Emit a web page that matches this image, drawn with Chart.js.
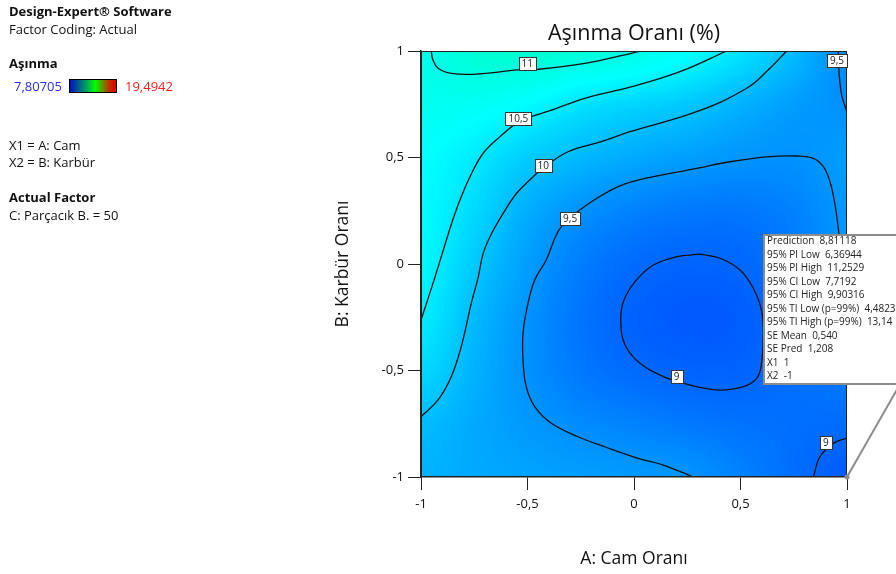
<!DOCTYPE html>
<html>
<head>
<meta charset="utf-8">
<script src="https://cdn.jsdelivr.net/npm/chart.js@4.4.1/dist/chart.umd.min.js"></script>
<style>
  body { margin: 0; background: #fff; }
  #wrap { position: relative; width: 896px; height: 574px; overflow: hidden; font-family: "Open Sans", sans-serif; }
  #c { position: absolute; left: 0; top: 0; }
  .side { position: absolute; left: 9px; font-size: 13px; line-height: 16px; color: #111; white-space: nowrap; }
  .b { font-weight: bold; }
  .bar { position: absolute; left: 69px; top: 79px; width: 46px; height: 12px; border: 1px solid #000;
         background: linear-gradient(to right, #0010c0, #00a060 35%, #00ff00 55%, #c03000 85%, #e00000); }
</style>
</head>
<body>
<div id="wrap">
  <canvas id="c" width="896" height="574"></canvas>
  <div class="side b" style="top:3px">Design-Expert® Software</div>
  <div class="side" style="top:21px">Factor Coding: Actual</div>
  <div class="side b" style="top:55px">Aşınma</div>
  <div class="side" style="top:78px;left:14px;color:#2a2aff">7,80705</div>
  <div class="bar"></div>
  <div class="side" style="top:78px;left:125px;color:#ff2020">19,4942</div>
  <div class="side" style="top:137px">X1 = A: Cam</div>
  <div class="side" style="top:154px">X2 = B: Karbür</div>
  <div class="side b" style="top:189px">Actual Factor</div>
  <div class="side" style="top:207px">C: Parçacık B. = 50</div>
</div>
<script>
// ===== Aşınma Oranı contour =====
const xTicks = [-1, -0.5, 0, 0.5, 1];
const yTicks = [-1, -0.5, 0, 0.5, 1];

const wearMin = 7.80705;
const wearMax = 19.4942;

// response, rows = B from -1 up to 1, cols = A from -1 to 1
const gridA = [-1, -0.75, -0.5, -0.25, 0, 0.25, 0.5, 0.75, 1];
const gridB = [-1, -0.75, -0.5, -0.25, 0, 0.25, 0.5, 0.75, 1];
const wear = [
  [9.85, 9.75, 9.68, 9.62, 9.57, 9.51, 9.30, 9.07, 8.85],
  [9.97, 9.75, 9.56, 9.40, 9.30, 9.20, 9.12, 9.08, 9.05],
  [10.30, 9.85, 9.48, 9.20, 9.03, 8.95, 8.95, 9.08, 9.20],
  [10.52, 9.95, 9.50, 9.15, 8.93, 8.85, 8.88, 9.10, 9.40],
  [10.65, 10.12, 9.62, 9.25, 9.04, 8.96, 8.99, 9.20, 9.52],
  [10.70, 10.30, 9.80, 9.49, 9.30, 9.20, 9.18, 9.30, 9.55],
  [10.75, 10.50, 10.15, 9.92, 9.75, 9.62, 9.52, 9.48, 9.60],
  [10.90, 10.85, 10.70, 10.42, 10.25, 10.10, 9.85, 9.62, 9.47],
  [10.95, 11.20, 11.25, 11.15, 11.02, 10.75, 10.40, 9.95, 9.40],
];

// contour lines, [A, B]
const line11 = [[-0.952, 1], [-0.944, 0.958], [-0.92, 0.919], [-0.858, 0.895], [-0.732, 0.892],
  [-0.545, 0.911], [-0.451, 0.914], [-0.231, 0.942], [-0.013, 0.989], [0.028, 1]];
const line105 = [[-1, -0.263], [-0.959, -0.138], [-0.934, -0.06], [-0.895, 0.066], [-0.856, 0.191],
  [-0.817, 0.3], [-0.77, 0.41], [-0.708, 0.52], [-0.629, 0.598], [-0.546, 0.665], [-0.488, 0.69],
  [-0.394, 0.72], [-0.231, 0.778], [-0.019, 0.83], [0.216, 0.903], [0.435, 1]];
const line10 = [[-1, -0.717], [-0.92, -0.638], [-0.858, -0.529], [-0.811, -0.388], [-0.764, -0.185],
  [-0.731, -0.06], [-0.708, 0.05], [-0.668, 0.144], [-0.614, 0.238], [-0.551, 0.332],
  [-0.473, 0.41], [-0.427, 0.45], [-0.31, 0.527], [-0.154, 0.574], [-0.019, 0.621],
  [0.294, 0.715], [0.529, 0.825], [0.638, 0.919], [0.717, 1]];
const line95 = [[1, -0.2], [0.981, -0.028], [0.959, 0.168], [0.944, 0.277], [0.92, 0.386],
  [0.889, 0.457], [0.842, 0.496], [0.764, 0.507], [0.638, 0.504], [0.451, 0.48], [0.294, 0.449],
  [0.019, 0.394], [-0.075, 0.363], [-0.2, 0.292], [-0.302, 0.215], [-0.357, 0.152],
  [-0.412, 0.019], [-0.466, -0.075], [-0.501, -0.2], [-0.521, -0.325], [-0.521, -0.451],
  [-0.506, -0.576], [-0.466, -0.67], [-0.388, -0.748], [-0.263, -0.811], [-0.138, -0.858],
  [0.019, -0.912], [0.138, -0.944], [0.278, -1]];
const line95corner = [[0.959, 1], [0.962, 0.911], [0.975, 0.793], [1, 0.714]];
const line9 = [[0.31, 0.046], [0.404, 0.027], [0.498, -0.028], [0.56, -0.114], [0.6, -0.224],
  [0.606, -0.357], [0.598, -0.47], [0.576, -0.537], [0.513, -0.576], [0.404, -0.592],
  [0.294, -0.576], [0.2, -0.55], [0.138, -0.529], [0.028, -0.466], [-0.042, -0.38],
  [-0.062, -0.271], [-0.05, -0.177], [0.005, -0.083], [0.091, -0.005], [0.2, 0.034], [0.31, 0.046]];
const line9corner = [[0.842, -1], [0.873, -0.905], [0.936, -0.842], [1, -0.817]];

// contour labels [A, B, text]
const levelLabels = [
  [-0.501, 0.942, '11'], [-0.543, 0.681, '10,5'], [-0.426, 0.462, '10'], [-0.3, 0.213, '9,5'],
  [0.953, 0.954, '9,5'], [0.2, -0.527, '9'], [0.901, -0.839, '9'],
];

// design point readout at A = 1, B = -1
const probePoint = [1, -1];
const probeText = [
  'Prediction  8,81118', '95% PI Low  6,36944', '95% PI High  11,2529', '95% CI Low  7,7192',
  '95% CI High  9,90316', '95% TI Low (p=99%)  4,4823', '95% TI High (p=99%)  13,14',
  'SE Mean  0,540', 'SE Pred  1,208', 'X1  1', 'X2  -1',
];

const FONT = '"Open Sans", "Noto Sans", sans-serif';
const comma = (v) => String(v).replace('.', ',');

const cubic = (p0, p1, p2, p3, t) =>
  p1 + 0.5 * t * (p2 - p0 + t * (2 * p0 - 5 * p1 + 4 * p2 - p3 + t * (3 * (p1 - p2) + p3 - p0)));

function sampleWear(a, b) {
  const n = gridA.length - 1;
  const fx = (a - gridA[0]) / (gridA[n] - gridA[0]) * n;
  const fy = (b - gridB[0]) / (gridB[n] - gridB[0]) * n;
  const i = Math.min(Math.max(Math.floor(fx), 0), n - 1);
  const j = Math.min(Math.max(Math.floor(fy), 0), n - 1);
  const cl = (k) => Math.min(Math.max(k, 0), n);
  const at = (r, c) => wear[cl(r)][cl(c)];
  const rows = [];
  for (let r = j - 1; r <= j + 2; r++) {
    rows.push(cubic(at(r, i - 1), at(r, i), at(r, i + 1), at(r, i + 2), fx - i));
  }
  return cubic(rows[0], rows[1], rows[2], rows[3], fy - j);
}

const stops = [[0, 0, 255], [0, 255, 255], [0, 255, 0], [255, 255, 0], [255, 0, 0]];
function colorFor(v) {
  const t = Math.min(Math.max((v - wearMin) / (wearMax - wearMin), 0), 1) * 4;
  const k = Math.min(Math.floor(t), 3);
  const f = t - k;
  return stops[k].map((c, m) => Math.round(c + (stops[k + 1][m] - c) * f));
}

// ---- filled surface under the lines ----
const surfacePlugin = {
  id: 'surface',
  beforeDatasetsDraw(chart) {
    const { ctx, chartArea: a, scales: { x, y } } = chart;
    const w = Math.round(a.right - a.left);
    const h = Math.round(a.bottom - a.top);
    const off = document.createElement('canvas');
    off.width = w; off.height = h;
    const octx = off.getContext('2d');
    const img = octx.createImageData(w, h);
    for (let py = 0; py < h; py++) {
      const b = y.getValueForPixel(a.top + py + 0.5);
      for (let px = 0; px < w; px++) {
        const [r, g, bl] = colorFor(sampleWear(x.getValueForPixel(a.left + px + 0.5), b));
        const o = (py * w + px) * 4;
        img.data[o] = r; img.data[o + 1] = g; img.data[o + 2] = bl; img.data[o + 3] = 255;
      }
    }
    octx.putImageData(img, 0, 0);
    ctx.drawImage(off, a.left, a.top);
  },
};

// ---- frame, level labels, title ----
const decorPlugin = {
  id: 'decor',
  afterDatasetsDraw(chart) {
    const { ctx, chartArea: a, scales: { x, y } } = chart;
    ctx.save();
    ctx.strokeStyle = '#222';
    ctx.lineWidth = 1;
    ctx.strokeRect(a.left + 0.5, a.top + 0.5, a.right - a.left - 1, a.bottom - a.top - 1);

    ctx.font = `10px ${FONT}`;
    ctx.textAlign = 'center';
    ctx.textBaseline = 'middle';
    levelLabels.forEach(([va, vb, text]) => {
      const cx = x.getPixelForValue(va);
      const cy = y.getPixelForValue(vb);
      const bw = Math.round(ctx.measureText(text).width) + 6;
      const bh = 13;
      const l = Math.round(cx - bw / 2) + 0.5;
      const t = Math.round(cy - bh / 2) + 0.5;
      ctx.fillStyle = '#fff';
      ctx.fillRect(l, t, bw, bh);
      ctx.strokeStyle = '#333';
      ctx.strokeRect(l, t, bw, bh);
      ctx.fillStyle = '#222';
      ctx.fillText(text, cx, cy + 0.5);
    });

    ctx.font = `21.5px ${FONT}`;
    ctx.fillStyle = '#111';
    ctx.textBaseline = 'middle';
    ctx.fillText('Aşınma Oranı (%)', (a.left + a.right) / 2, a.top - 17);
    ctx.restore();
  },
  afterDraw(chart) {
    const { ctx, scales: { x, y } } = chart;
    const px = x.getPixelForValue(probePoint[0]);
    const py = y.getPixelForValue(probePoint[1]);
    ctx.save();
    ctx.strokeStyle = '#8c8c8c';
    ctx.lineWidth = 2;
    ctx.beginPath();
    ctx.moveTo(px, py);
    ctx.lineTo(px + 60, py - 105);
    ctx.stroke();
    ctx.fillStyle = '#8c8c8c';
    ctx.beginPath();
    ctx.arc(px, py, 2.5, 0, Math.PI * 2);
    ctx.fill();

    const bx = 764, by = 235;
    ctx.fillStyle = '#fff';
    ctx.fillRect(bx, by, 160, 149);
    ctx.strokeRect(bx, by, 160, 149);
    ctx.fillStyle = '#222';
    ctx.font = `10px ${FONT}`;
    ctx.textAlign = 'left';
    ctx.textBaseline = 'middle';
    probeText.forEach((s, i) => ctx.fillText(s, bx + 3, by + 6.5 + i * 13.5));
    ctx.restore();
  },
};

const contourLines = [line11, line105, line10, line95, line95corner, line9, line9corner];

new Chart(document.getElementById('c'), {
  type: 'scatter',
  data: {
    datasets: contourLines.map((pts) => ({
      data: pts.map(([a, b]) => ({ x: a, y: b })),
      showLine: true,
      borderColor: '#111',
      borderWidth: 1.3,
      pointRadius: 0,
      tension: 0.4,
      fill: false,
    })),
  },
  options: {
    responsive: false,
    animation: false,
    events: [],
    layout: { padding: { left: 321, right: 49, top: 51, bottom: 0 } },
    scales: {
      x: {
        type: 'linear',
        min: -1,
        max: 1,
        afterBuildTicks: (s) => { s.ticks = xTicks.map((v) => ({ value: v })); },
        afterFit: (s) => { s.height = 97; },
        grid: { drawOnChartArea: false, color: '#222', tickLength: 13 },
        border: { color: '#222', width: 1.5 },
        ticks: { color: '#111', padding: 6, font: { size: 13, family: FONT }, callback: comma },
        title: {
          display: true, text: 'A: Cam Oranı', color: '#111',
          font: { size: 17.5, family: FONT }, padding: { top: 0, bottom: 4.5 },
        },
      },
      y: {
        type: 'linear',
        min: -1,
        max: 1,
        afterBuildTicks: (s) => { s.ticks = yTicks.map((v) => ({ value: v })); },
        afterFit: (s) => { s.width = 100; },
        grid: { drawOnChartArea: false, color: '#222', tickLength: 13 },
        border: { color: '#222', width: 1.5 },
        ticks: { color: '#111', padding: 4, font: { size: 13, family: FONT }, callback: comma },
        title: {
          display: true, text: 'B: Karbür Oranı', color: '#111',
          font: { size: 17.5, family: FONT }, padding: { top: 11.5, bottom: 0 },
        },
      },
    },
    plugins: {
      legend: { display: false },
      tooltip: { enabled: false },
    },
  },
  plugins: [surfacePlugin, decorPlugin],
});
</script>
</body>
</html>
